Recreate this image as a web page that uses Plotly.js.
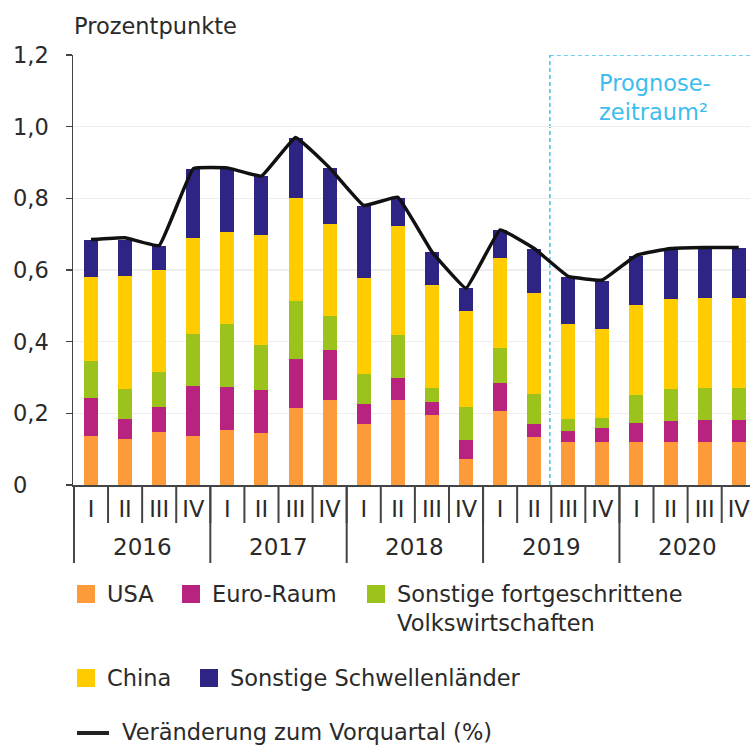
<!DOCTYPE html>
<html><head><meta charset="utf-8">
<script src="https://cdn.plot.ly/plotly-3.0.1.min.js"></script>
<style>body{margin:0;background:#fff}#chart{width:750px;height:745px}</style>
</head><body><div id="chart"></div>
<script>
// ---- data ----
const years = ["2016", "2017", "2018", "2019", "2020"];
const quarters = ["I", "II", "III", "IV"];
const usa      = [0.137,0.129,0.148,0.138, 0.153,0.144,0.216,0.238, 0.169,0.236,0.195,0.072, 0.207,0.135,0.121,0.121, 0.121,0.121,0.121,0.121];
const euroRaum = [0.107,0.056,0.071,0.138, 0.120,0.122,0.137,0.138, 0.058,0.064,0.037,0.054, 0.077,0.034,0.030,0.037, 0.051,0.058,0.060,0.060];
const sonstFort= [0.102,0.082,0.097,0.146, 0.177,0.124,0.161,0.097, 0.084,0.118,0.040,0.092, 0.099,0.084,0.032,0.030, 0.078,0.088,0.091,0.091];
const china    = [0.234,0.317,0.285,0.266, 0.257,0.307,0.288,0.255, 0.268,0.305,0.285,0.268, 0.250,0.284,0.267,0.248, 0.251,0.251,0.251,0.251];
const sonstSchw= [0.105,0.101,0.065,0.193, 0.174,0.165,0.167,0.158, 0.201,0.077,0.094,0.063, 0.078,0.121,0.130,0.133, 0.138,0.140,0.137,0.139];
const veraenderung = [0.685,0.690,0.668,0.883, 0.885,0.862,0.970,0.885, 0.780,0.803,0.651,0.549, 0.712,0.660,0.582,0.572, 0.641,0.660,0.663,0.663];
const yTicks = [0, 0.2, 0.4, 0.6, 0.8, 1.0, 1.2];
const yTickText = ["0", "0,2", "0,4", "0,6", "0,8", "1,0", "1,2"];
const seriesNames = ["USA", "Euro-Raum", "Sonstige fortgeschrittene<br>Volkswirtschaften", "China", "Sonstige Schwellenländer"];
const lineName = "Veränderung zum Vorquartal (%)";
const forecastStart = 13.46; // between 2019 II and 2019 III
const forecastText = "Prognose-<br>zeitraum²";

// ---- styles ----
const colors = ["#FD9A3A", "#B8237F", "#9BC31C", "#FFCC00", "#2E2483"];
const FONT = "DejaVu Sans";
const FS = 22.5;
const TXT = "#2a2a2a";
const AX = "#444444";
const BLUE = "#3FC0F0";

const categories = years.flatMap(y => quarters.map(q => y + " " + q));
const quarterLabels = years.flatMap(() => quarters);
const seriesValues = [usa, euroRaum, sonstFort, china, sonstSchw];

// pixel helpers (plot area: left 73, top 55, width 677, height 430)
const L = 73, T = 55, W = 677, H = 430;
const px = X => (X - L) / W;
const py = Y => (T + H - Y) / H;

const traces = seriesValues.map((vals, i) => ({
  type: "bar", x: categories, y: vals, name: seriesNames[i],
  marker: {color: colors[i], line: {width: 0}}, width: 0.41,
  showlegend: false, hoverinfo: "y+name"
}));
traces.push({
  type: "scatter", mode: "lines", x: categories, y: veraenderung, name: lineName,
  line: {color: "#111111", width: 3.5, shape: "spline", smoothing: 0.25},
  showlegend: false
});

const shapes = [];
const annotations = [];

// forecast frame (left and top edges)
shapes.push({type: "line", xref: "x", yref: "y", x0: forecastStart, x1: forecastStart, y0: 0, y1: 1.2,
  line: {color: BLUE, width: 1.5, dash: "4px,3px"}, layer: "below"});
shapes.push({type: "line", xref: "x", yref: "y", x0: forecastStart, x1: 21, y0: 1.2, y1: 1.2,
  line: {color: BLUE, width: 1.5, dash: "4px,3px"}, layer: "below"});
annotations.push({xref: "paper", yref: "paper", x: px(655), y: py(97), xanchor: "center", yanchor: "middle",
  text: forecastText, showarrow: false, align: "left", font: {family: FONT, size: FS, color: "#3DBDEE"}});

// quarter separators & year separators
categories.forEach((c, i) => {
  shapes.push({type: "line", xref: "x", yref: "paper", x0: i - 0.5, x1: i - 0.5, y0: 0, y1: py(523),
    line: {color: AX, width: 2}});
});
years.forEach((yr, k) => {
  const i0 = k * quarters.length;
  shapes.push({type: "line", xref: "x", yref: "paper", x0: i0 - 0.5, x1: i0 - 0.5, y0: 0, y1: py(563),
    line: {color: AX, width: 2}});
  annotations.push({xref: "x", yref: "paper", x: i0 + (quarters.length - 1) / 2, y: py(547),
    xanchor: "center", yanchor: "middle", text: yr, showarrow: false,
    font: {family: FONT, size: FS + 0.5, color: TXT}});
});

// y tick labels (left aligned)
yTicks.forEach((v, i) => {
  annotations.push({xref: "paper", yref: "y", x: px(11), y: v, xanchor: "left", yanchor: "middle",
    text: yTickText[i], showarrow: false, font: {family: FONT, size: FS, color: TXT}});
});

// unit label
annotations.push({xref: "paper", yref: "paper", x: px(72), y: py(26), xanchor: "left", yanchor: "middle",
  text: "Prozentpunkte", showarrow: false, font: {family: FONT, size: FS, color: TXT}});

// legend (manual)
const legendItems = [
  {i: 0, sx: 77, sy: 585, tx: 107, ty: 594},
  {i: 1, sx: 182, sy: 585, tx: 212, ty: 594},
  {i: 2, sx: 367, sy: 585, tx: 397, ty: 608.5},
  {i: 3, sx: 77, sy: 669, tx: 107, ty: 678},
  {i: 4, sx: 200, sy: 669, tx: 230, ty: 678}
];
legendItems.forEach(it => {
  shapes.push({type: "rect", xref: "paper", yref: "paper", x0: px(it.sx), x1: px(it.sx + 18),
    y0: py(it.sy + 18), y1: py(it.sy), fillcolor: colors[it.i], line: {width: 0}});
  annotations.push({xref: "paper", yref: "paper", x: px(it.tx - 2), y: py(it.ty), xanchor: "left", yanchor: "middle",
    text: seriesNames[it.i], showarrow: false, align: "left", font: {family: FONT, size: FS, color: TXT}});
});
shapes.push({type: "line", xref: "paper", yref: "paper", x0: px(77), x1: px(109), y0: py(733), y1: py(733),
  line: {color: "#222222", width: 4}});
annotations.push({xref: "paper", yref: "paper", x: px(120), y: py(732), xanchor: "left", yanchor: "middle",
  text: lineName, showarrow: false, font: {family: FONT, size: FS, color: TXT}});

const layout = {
  width: 750, height: 745,
  margin: {l: L, r: 750 - L - W, t: T, b: 745 - T - H, pad: 0},
  paper_bgcolor: "#ffffff", plot_bgcolor: "#ffffff",
  barmode: "stack", showlegend: false,
  font: {family: FONT, size: FS, color: TXT},
  xaxis: {
    type: "category", categoryorder: "array", categoryarray: categories,
    tickvals: categories, ticktext: quarterLabels,
    range: [-0.528, 19.33], ticks: "", showgrid: false, zeroline: false,
    showline: true, linecolor: AX, linewidth: 2,
    tickfont: {family: FONT, size: FS, color: TXT}, ticklabelstandoff: 3,
    fixedrange: true
  },
  yaxis: {
    range: [0, 1.2], tickvals: yTicks, showticklabels: false,
    ticks: "outside", ticklen: 6, tickwidth: 1.5, tickcolor: AX,
    showline: true, linecolor: AX, linewidth: 1.5,
    showgrid: true, gridcolor: "#eeeeee", gridwidth: 1.5, zeroline: false,
    fixedrange: true
  },
  shapes: shapes,
  annotations: annotations
};

Plotly.newPlot("chart", traces, layout, {displayModeBar: false, staticPlot: true});
</script>
</body></html>
